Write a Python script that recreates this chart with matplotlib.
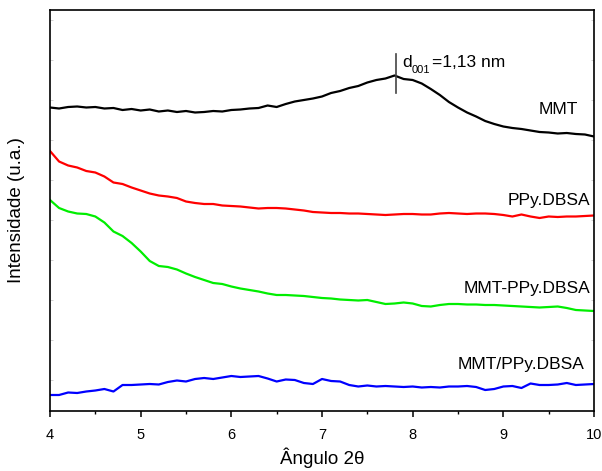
import numpy as np
import matplotlib
matplotlib.use("Agg")
import matplotlib.pyplot as plt
from matplotlib.ticker import MultipleLocator

plt.rcParams['font.family'] = ['Liberation Sans', 'DejaVu Sans']
plt.rcParams['mathtext.fontset'] = 'custom'
plt.rcParams['mathtext.rm'] = 'Liberation Sans'

# 2theta sampling (degrees)
theta = np.round(np.arange(4.0, 10.01, 0.1), 1)

# intensities (u.a.), curves stacked as in the original
mmt = [312.5, 311.5, 313, 313.5, 312.5, 313, 311.5, 312, 310, 311,
       309.5, 310.5, 308.5, 309.5, 308, 309, 307.5, 308, 309, 308.5,
       310, 310.5, 311.5, 312, 314.5, 313, 316, 318.5, 320, 321.5,
       323.5, 327, 329, 332, 334, 337.5, 340, 341.5, 344.5, 341,
       340, 336.5, 331, 325, 318, 312.5, 307.5, 303.5, 299, 296,
       293.5, 292, 291, 289.5, 288, 287.5, 286.5, 287, 286, 285.5,
       283.5]
ppy = [269, 258.5, 254.5, 252.5, 249, 247.5, 243.5, 237.5, 236, 232.5,
       229.5, 226.5, 224.5, 223.5, 222, 218.5, 217, 216, 216, 214.5,
       214, 213.5, 212.5, 211.5, 212, 212, 211.5, 210.5, 209.5, 208,
       207.5, 207, 207, 206.5, 206.5, 206, 205.5, 205, 205.5, 206,
       206, 205.5, 205.5, 206.5, 207, 206.5, 206, 206.5, 206.5, 206,
       205, 203.5, 205.5, 203.5, 202, 203.5, 203, 203.5, 203.5, 204,
       204.5]
mmt_ppy = [220, 212, 208.5, 206.5, 206, 203.5, 197.5, 188.5, 184, 177,
           168.5, 159, 154, 153, 150.5, 146.5, 143, 140, 137, 136,
           133.5, 131.5, 130, 128.5, 126.5, 125, 125, 124.5, 124, 123,
           122, 121.5, 120.5, 120, 119.5, 120, 118, 116, 116.5, 117.5,
           116.5, 114, 113.5, 115, 116, 116, 115.5, 115.5, 115, 115,
           114.5, 114, 113.5, 113, 112.5, 113, 113.5, 112, 110, 109.5,
           109]
mmt_slash_ppy = [25, 25, 27.5, 27, 28.5, 29.5, 31, 28.5, 35, 35,
                 35.5, 36, 35.5, 38, 39.5, 38.5, 41, 42, 41, 42.5,
                 44, 43, 43.5, 44, 41.5, 38.5, 40.5, 40, 37, 36,
                 41, 39, 38.5, 35, 33.5, 34.5, 33.5, 34, 33.5, 33,
                 33.5, 32.5, 33, 32.5, 33.5, 33.5, 34, 33, 30, 31,
                 33.5, 34, 32, 36.5, 35, 35, 35.5, 37, 35, 35.5,
                 36]

labels = ["MMT", "PPy.DBSA", "MMT-PPy.DBSA", "MMT/PPy.DBSA"]
label_x = [9.82, 9.96, 9.96, 9.90]
label_y = [310.5, 219, 131.7, 55]

d001_theta = 7.82

fig = plt.figure(figsize=(6.02, 4.71), dpi=100)
ax = fig.add_axes([50 / 602, 60 / 471, 544 / 602, 401 / 471])

lw = 1.6
ax.plot(theta, mmt, color="black", lw=lw)
ax.plot(theta, ppy, color="#ff0000", lw=lw)
ax.plot(theta, mmt_ppy, color="#00ee00", lw=lw)
ax.plot(theta, mmt_slash_ppy, color="#0000ff", lw=lw)

for lab, x, y in zip(labels, label_x, label_y):
    ax.text(x, y, lab, ha="right", va="center", fontsize=12.5)

# d001 reflection marker
ax.plot([d001_theta, d001_theta], [327, 366], color="#444444", lw=1.2)
ax.text(d001_theta + 0.07, 353, "d", ha="left", va="baseline", fontsize=12.5)
ax.text(d001_theta + 0.17, 347, "001", ha="left", va="baseline", fontsize=8)
ax.text(d001_theta + 0.39, 353, "=1,13 nm", ha="left", va="baseline",
        fontsize=12.5)

ax.set_xlim(4, 10)
ax.set_ylim(9, 410)
ax.xaxis.set_major_locator(MultipleLocator(1))
ax.xaxis.set_minor_locator(MultipleLocator(0.5))
ax.yaxis.set_major_locator(MultipleLocator(40))
ax.tick_params(axis="x", which="major", direction="out", length=4, width=1.1,
               labelsize=10.5, pad=8)
ax.tick_params(axis="x", which="minor", direction="out", length=2.5, width=1)
ax.tick_params(axis="y", which="major", direction="in", length=2, width=0.5,
               color="0.75", left=True, right=True, labelleft=False)
for s in ax.spines.values():
    s.set_linewidth(1.2)

ax.set_xlabel("Ângulo 2θ", fontsize=13.5, labelpad=4)
ax.set_ylabel("Intensidade (u.a.)", fontsize=13.5, labelpad=18)

fig.savefig("out.png", dpi=100)
